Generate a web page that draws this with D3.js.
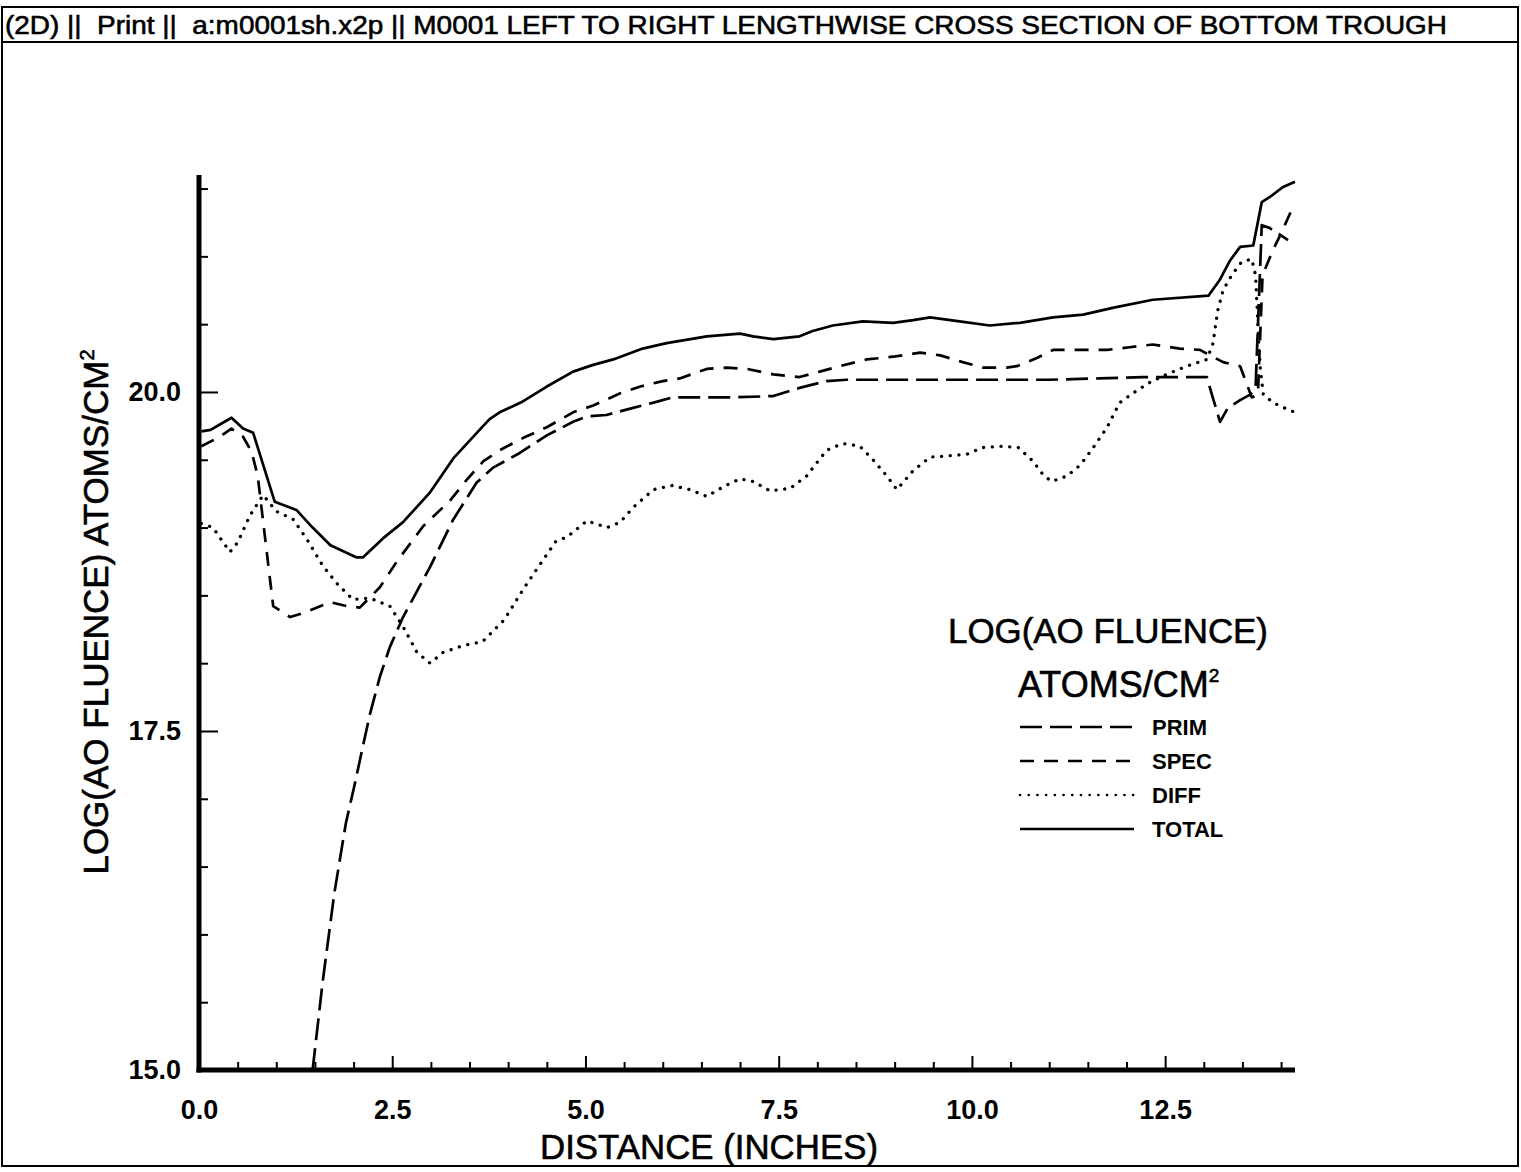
<!DOCTYPE html>
<html><head><meta charset="utf-8">
<script src="https://cdn.jsdelivr.net/npm/d3@7"></script>
<style>
html,body{margin:0;padding:0;background:#fff;}
svg{display:block;}
text{font-family:"Liberation Sans",Arial,Helvetica,sans-serif;fill:#000;}
.heavy{stroke:#000;stroke-width:0.6px;}
</style></head>
<body>
<svg id="chart" width="1521" height="1172"></svg>
<script>
// ---------------- DATA ----------------
const titleText = "(2D) ||  Print ||  a:m0001sh.x2p || M0001 LEFT TO RIGHT LENGTHWISE CROSS SECTION OF BOTTOM TROUGH";
const xMajorTicks = [0, 2.5, 5, 7.5, 10, 12.5];
const xTickLabels = ["0.0", "2.5", "5.0", "7.5", "10.0", "12.5"];
const yMajorTicks = [15, 17.5, 20];
const yTickLabels = ["15.0", "17.5", "20.0"];
const seriesNames = ["PRIM", "SPEC", "DIFF", "TOTAL"];

const totalX = [0.03,0.15,0.27,0.42,0.57,0.70,0.98,1.26,1.47,1.70,2.04,2.12,2.38,2.64,2.99,3.29,3.63,3.76,3.89,4.19,4.50,4.84,5.10,5.36,5.74,6.05,6.57,7.00,7.17,7.43,7.77,7.94,8.20,8.59,8.98,9.24,9.46,9.84,10.23,10.62,11.05,11.44,11.82,12.34,13.06,13.21,13.34,13.47,13.64,13.75,13.86,14.02,14.18];
const totalY = [19.71,19.72,19.76,19.81,19.73,19.70,19.19,19.13,19.00,18.87,18.78,18.78,18.92,19.04,19.26,19.51,19.72,19.80,19.85,19.93,20.04,20.15,20.20,20.24,20.32,20.36,20.41,20.43,20.41,20.39,20.41,20.45,20.49,20.52,20.51,20.53,20.55,20.52,20.49,20.51,20.55,20.57,20.62,20.68,20.71,20.83,20.97,21.07,21.08,21.40,21.44,21.51,21.55];

const specX = [0.03,0.27,0.42,0.57,0.68,0.76,0.96,1.18,1.35,1.70,1.92,2.08,2.34,2.56,2.90,3.25,3.46,3.68,3.89,4.19,4.50,4.84,5.10,5.45,5.71,6.00,6.22,6.57,6.83,7.09,7.43,7.77,8.03,8.29,8.64,8.98,9.33,9.59,9.88,10.14,10.45,10.58,10.84,11.05,11.36,11.75,12.04,12.34,12.69,12.95,13.08,13.25,13.47,13.53,13.62,13.70,13.76,13.89,14.00,14.15,14.18];
const specY = [19.60,19.67,19.73,19.67,19.56,19.38,18.42,18.34,18.37,18.45,18.42,18.41,18.56,18.75,19.01,19.20,19.35,19.49,19.57,19.66,19.74,19.85,19.90,19.99,20.04,20.08,20.10,20.17,20.18,20.17,20.13,20.11,20.15,20.19,20.24,20.26,20.29,20.27,20.22,20.18,20.18,20.19,20.25,20.31,20.31,20.31,20.33,20.35,20.32,20.31,20.27,20.22,20.19,20.10,19.96,19.98,20.86,21.04,21.17,21.36,21.38];

const primX = [1.47,1.60,1.75,1.90,2.02,2.11,2.21,2.34,2.47,2.64,2.99,3.29,3.59,3.80,4.15,4.50,4.84,5.02,5.27,5.53,5.87,6.13,6.39,6.91,7.43,7.77,8.12,8.38,9.00,10.00,11.00,11.65,12.21,13.04,13.10,13.21,13.31,13.47,13.60,13.67,13.75,13.85,14.09];
const primY = [15.00,15.65,16.30,16.82,17.12,17.36,17.62,17.90,18.12,18.34,18.71,19.06,19.33,19.44,19.55,19.68,19.78,19.82,19.83,19.87,19.92,19.96,19.96,19.96,19.97,20.03,20.08,20.09,20.09,20.09,20.09,20.10,20.11,20.11,19.99,19.78,19.88,19.94,19.98,20.03,21.23,21.21,21.12];

const diffX = [0.03,0.18,0.40,0.50,0.66,0.83,1.00,1.22,1.40,1.60,1.78,1.99,2.21,2.47,2.64,2.82,2.99,3.16,3.42,3.67,3.95,4.20,4.45,4.62,4.76,4.89,5.02,5.28,5.45,5.62,5.88,6.12,6.35,6.57,6.78,7.00,7.17,7.39,7.65,7.86,8.12,8.33,8.55,8.72,8.90,9.03,9.24,9.46,9.72,9.93,10.14,10.36,10.60,10.79,10.92,11.03,11.23,11.40,11.57,11.75,11.91,12.08,12.30,12.52,12.78,13.04,13.12,13.18,13.25,13.36,13.49,13.62,13.67,13.69,13.71,13.73,13.77,13.90,14.09,14.18];
const diffY = [19.03,19.00,18.82,18.89,19.09,19.24,19.12,19.06,18.91,18.72,18.59,18.47,18.48,18.42,18.27,18.08,18.00,18.08,18.13,18.16,18.32,18.55,18.76,18.90,18.93,18.99,19.05,19.00,19.04,19.15,19.28,19.31,19.28,19.23,19.30,19.36,19.34,19.27,19.29,19.38,19.57,19.62,19.60,19.50,19.38,19.28,19.42,19.52,19.53,19.54,19.59,19.60,19.59,19.49,19.39,19.34,19.38,19.46,19.59,19.74,19.92,19.99,20.07,20.13,20.19,20.24,20.36,20.60,20.75,20.86,20.96,20.98,20.86,20.62,20.37,20.18,19.98,19.92,19.87,19.85];

// ---------------- CHART ----------------
const svg = d3.select("#chart");

// page frame and title band
svg.append("rect").attr("x", 2).attr("y", 7).attr("width", 1516).attr("height", 1159)
  .attr("fill", "none").attr("stroke", "#000").attr("stroke-width", 2);
svg.append("line").attr("x1", 2).attr("x2", 1518).attr("y1", 42).attr("y2", 42)
  .attr("stroke", "#000").attr("stroke-width", 2);
svg.append("text").attr("class", "heavy").attr("x", 5).attr("y", 34).attr("font-size", 26)
  .style("white-space", "pre")
  .attr("textLength", 1442).attr("lengthAdjust", "spacingAndGlyphs")
  .text(titleText);

const x = d3.scaleLinear().domain([0, 14.18]).range([199, 1295]);
const y = d3.scaleLinear().domain([15, 21.6]).range([1070, 175]);

// minor ticks
const xMinor = d3.range(0.5, 14.01, 0.5).filter(v => !xMajorTicks.includes(v));
const yMinor = d3.range(15.5, 21.51, 0.5).filter(v => !yMajorTicks.includes(v));

const gx = svg.append("g").attr("transform", `translate(0,${y(15)})`);
gx.call(d3.axisBottom(x).tickValues(xMinor).tickSize(-8).tickFormat(""));
gx.selectAll(".tick line").attr("stroke-width", 2);
const gx2 = svg.append("g").attr("transform", `translate(0,${y(15)})`);
gx2.call(d3.axisBottom(x).tickValues(xMajorTicks).tickSize(-14).tickPadding(30)
  .tickFormat((d, i) => xTickLabels[i]));
gx2.selectAll(".tick line").attr("stroke-width", 2);
gx2.selectAll(".tick text").attr("font-size", 27).attr("font-weight", "bold").attr("font-family", "Liberation Sans, Arial, sans-serif");
svg.selectAll(".domain").remove();

const gy = svg.append("g").attr("transform", `translate(${x(0)},0)`);
gy.call(d3.axisLeft(y).tickValues(yMinor).tickSize(-9).tickFormat(""));
gy.selectAll(".tick line").attr("stroke-width", 2);
const gy2 = svg.append("g").attr("transform", `translate(${x(0)},0)`);
gy2.call(d3.axisLeft(y).tickValues(yMajorTicks).tickSize(-19).tickPadding(18)
  .tickFormat((d, i) => yTickLabels[i]));
gy2.selectAll(".tick line").attr("stroke-width", 2);
gy2.selectAll(".tick text").attr("font-size", 27).attr("font-weight", "bold").attr("font-family", "Liberation Sans, Arial, sans-serif");
svg.selectAll(".domain").remove();

// thick axis lines
svg.append("line").attr("x1", x(0)).attr("x2", x(0)).attr("y1", y(21.6)).attr("y2", y(15) + 2.5)
  .attr("stroke", "#000").attr("stroke-width", 5);
svg.append("line").attr("x1", x(0) - 2.5).attr("x2", x(14.18)).attr("y1", y(15)).attr("y2", y(15))
  .attr("stroke", "#000").attr("stroke-width", 5);

// axis titles
svg.append("text").attr("class", "heavy").attr("x", 709).attr("y", 1159).attr("text-anchor", "middle")
  .attr("font-size", 35).attr("textLength", 338).attr("lengthAdjust", "spacingAndGlyphs")
  .text("DISTANCE (INCHES)");

const yl = svg.append("text").attr("class", "heavy").attr("transform", "translate(108,612) rotate(-90)")
  .attr("text-anchor", "middle").attr("font-size", 35);
yl.append("tspan").text("LOG(AO FLUENCE) ATOMS/CM");
yl.append("tspan").attr("font-size", 20).attr("dy", -14).text("2");

// series
const styles = {
  PRIM: {dash: "22,8", width: 2.7, cap: "butt"},
  SPEC: {dash: "14,10", width: 2.7, cap: "butt"},
  DIFF: {dash: "0.1,8.6", width: 3.3, cap: "round"},
  TOTAL: {dash: null, width: 2.7, cap: "butt"}
};
const seriesData = {
  PRIM: primX.map((v, i) => [v, primY[i]]),
  SPEC: specX.map((v, i) => [v, specY[i]]),
  DIFF: diffX.map((v, i) => [v, diffY[i]]),
  TOTAL: totalX.map((v, i) => [v, totalY[i]])
};
const line = d3.line().x(d => x(d[0])).y(d => y(d[1])).curve(d3.curveLinear);
seriesNames.forEach(name => {
  const s = styles[name];
  svg.append("path").datum(seriesData[name])
    .attr("d", line).attr("fill", "none").attr("stroke", "#000")
    .attr("stroke-width", s.width).attr("stroke-linejoin", "round")
    .attr("stroke-linecap", s.cap)
    .attr("stroke-dasharray", s.dash);
});

// legend
svg.append("text").attr("class", "heavy").attr("x", 1108).attr("y", 643).attr("text-anchor", "middle")
  .attr("font-size", 35).attr("textLength", 320).attr("lengthAdjust", "spacingAndGlyphs")
  .text("LOG(AO FLUENCE)");
const lt = svg.append("text").attr("class", "heavy").attr("x", 1018).attr("y", 697).attr("font-size", 36);
lt.append("tspan").text("ATOMS/CM");
lt.append("tspan").attr("font-size", 19).attr("dy", -15).text("2");

const legY = [727, 761, 795, 829];
seriesNames.forEach((name, i) => {
  const s = styles[name];
  svg.append("line").attr("x1", 1020).attr("x2", 1134).attr("y1", legY[i]).attr("y2", legY[i])
    .attr("stroke", "#000").attr("stroke-width", name === "DIFF" ? 2.6 : 2.4)
    .attr("stroke-linecap", s.cap).attr("stroke-dasharray", s.dash);
  svg.append("text").attr("x", 1152).attr("y", legY[i] + 8).attr("font-size", 22)
    .attr("font-weight", "bold").text(name);
});
</script>
</body></html>
